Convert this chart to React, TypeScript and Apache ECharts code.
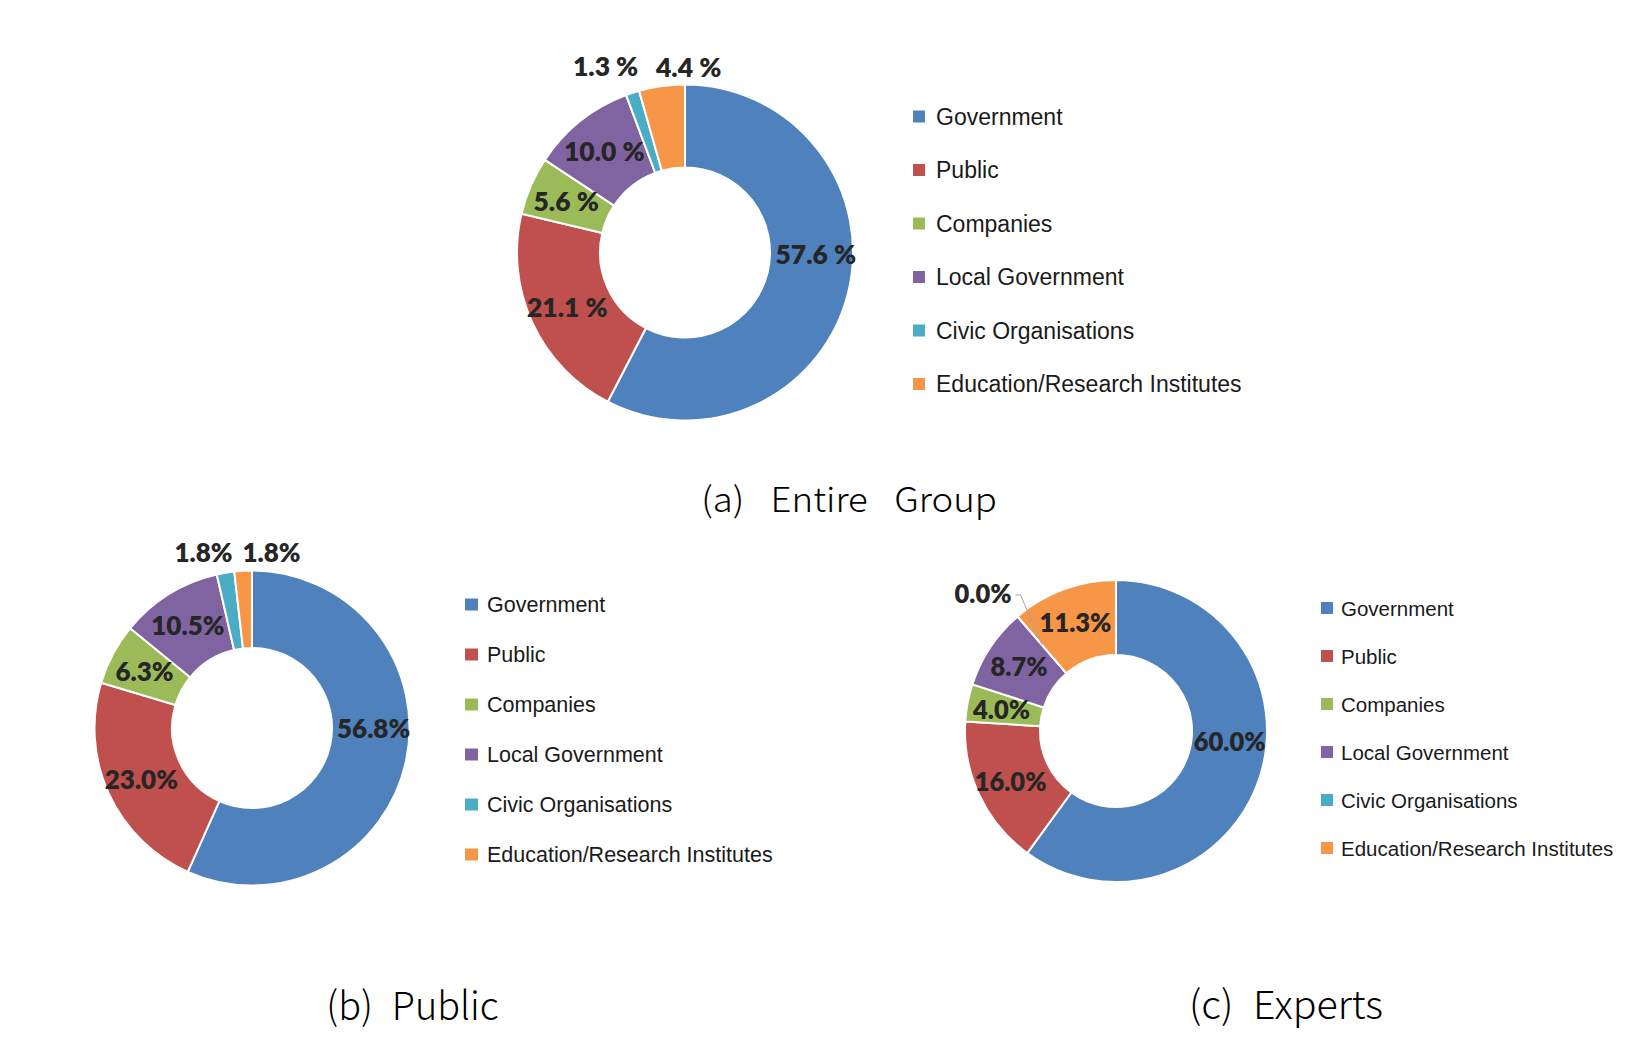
import React, { useEffect, useRef } from 'react';
import * as echarts from 'echarts';

// ---------- data ----------
const categories = [
  'Government',
  'Public',
  'Companies',
  'Local Government',
  'Civic Organisations',
  'Education/Research Institutes',
];
const entireGroupValues = [57.6, 21.1, 5.6, 10.0, 1.3, 4.4];
const publicValues = [56.8, 23.0, 6.3, 10.5, 1.8, 1.8];
const expertsValues = [60.0, 16.0, 4.0, 8.7, 0.0, 11.3];
const panelTitles = ['(a)\u2002 Entire\u2002 Group', '(b)\u2002Public', '(c)\u2002Experts'];

// ---------- styles / layout ----------
const colors = ['#4F81BD', '#C0504D', '#9BBB59', '#8064A2', '#4BACC6', '#F79646'];
const LABEL_FONT = 'Lato';
const LABEL_WEIGHT = 800;

type Panel = {
  values: number[];
  suffix: string;
  center: [number, number];
  radius: [number, number];
  labelSize: number;
  shifts: Record<number, [number, number]>;
  leaderIndex?: number;
  legend: { left: number; top: number; gap: number; size: number; lh: number; pad: number[]; iw: number };
  title: { x: number; y: number; size: number; sx: number };
};

const panels: Panel[] = [
  {
    values: entireGroupValues,
    suffix: ' %',
    center: [685, 252.5],
    radius: [85, 168],
    labelSize: 26.5,
    shifts: { 0: [5, -29.5], 4: [-39, -63], 5: [21.5, -57.7] },
    legend: { left: 913, top: 101, gap: 22.5, size: 23, lh: 24, pad: [0, 0, 7, 6], iw: 12 },
    title: { x: 849, y: 497, size: 34.5, sx: 1.06 },
  },
  {
    values: publicValues,
    suffix: '%',
    center: [252, 728],
    radius: [80, 157.5],
    labelSize: 26,
    shifts: { 0: [2.5, -25], 4: [-28, -56], 5: [26.4, -54.4] },
    legend: { left: 465, top: 590.5, gap: 22, size: 21.5, lh: 22, pad: [0, 0, 6, 4], iw: 13 },
    title: { x: 412.5, y: 1002.5, size: 39, sx: 0.97 },
  },
  {
    values: expertsValues,
    suffix: '%',
    center: [1116, 731],
    radius: [76, 151],
    labelSize: 25.5,
    shifts: { 0: [2.8, -26], 4: [-57, -50] },
    leaderIndex: 4,
    legend: { left: 1321, top: 594, gap: 20, size: 20.5, lh: 21, pad: [0, 0, 7, 3], iw: 12 },
    title: { x: 1286, y: 1002.5, size: 39, sx: 1.01 },
  },
];

const fmt = (v: number, suffix: string) => Number(v).toFixed(1) + suffix;

function measureText(text: string, font: string): number {
  const c = document.createElement('canvas').getContext('2d');
  if (!c) return text.length * 12;
  c.font = font;
  return c.measureText(text).width;
}

// leader line for a label moved away from its slice (computed from the data and the ring geometry)
function leaderLine(p: Panel) {
  if (p.leaderIndex == null) return null;
  const i = p.leaderIndex;
  const total = p.values.reduce((a, b) => a + b, 0);
  let cum = 0;
  for (let k = 0; k < i; k++) cum += p.values[k];
  cum += p.values[i] / 2;
  const theta = ((90 - (360 * cum) / total) * Math.PI) / 180;
  const rm = (p.radius[0] + p.radius[1]) / 2;
  const ax = p.center[0] + rm * Math.cos(theta);
  const ay = p.center[1] - rm * Math.sin(theta);
  const s = p.shifts[i] || [0, 0];
  const lx = ax + s[0];
  const ly = ay + s[1];
  const w = measureText(fmt(p.values[i], p.suffix), `${LABEL_WEIGHT} ${p.labelSize}px ${LABEL_FONT}`);
  const tx = lx + w / 2 + 2;
  return {
    type: 'polyline',
    z: 100,
    z2: 100,
    silent: true,
    shape: { points: [[ax, ay], [tx + 5, ly], [tx, ly]] },
    style: { stroke: '#A6A6A6', lineWidth: 1, fill: null },
  };
}

function buildOption() {
  const series = panels.map((p, si) => ({
    type: 'pie',
    name: panelTitles[si],
    center: p.center,
    radius: p.radius,
    startAngle: 90,
    clockwise: true,
    avoidLabelOverlap: false,
    color: colors,
    itemStyle: { borderColor: '#ffffff', borderWidth: 2 },
    label: {
      show: true,
      position: 'inside',
      formatter: (q: any) => fmt(q.value, p.suffix),
      color: '#262626',
      fontFamily: LABEL_FONT,
      fontWeight: LABEL_WEIGHT,
      fontSize: p.labelSize,
      textBorderWidth: 0,
    },
    labelLine: { show: false },
    labelLayout: (q: any) => {
      const s = p.shifts[q.dataIndex];
      if (!s) return {};
      const r = q.labelRect;
      return { x: r.x + r.width / 2 + s[0], y: r.y + r.height / 2 + s[1] };
    },
    emphasis: { disabled: true },
    z: 2,
    data: categories.map((name, i) => ({ name, value: p.values[i] })),
  }));

  const legend = panels.map((p) => ({
    orient: 'vertical',
    left: p.legend.left,
    top: p.legend.top,
    padding: 0,
    itemGap: p.legend.gap,
    itemWidth: p.legend.iw,
    itemHeight: 12,
    icon: 'rect',
    selectedMode: false,
    itemStyle: { borderWidth: 0 },
    data: categories,
    textStyle: {
      fontFamily: 'Liberation Sans',
      fontSize: p.legend.size,
      lineHeight: p.legend.lh,
      color: '#1a1a1a',
      padding: p.legend.pad,
    },
  }));

  const elements: any[] = panels.map((p, i) => ({
    type: 'text',
    x: p.title.x,
    y: p.title.y,
    scaleX: p.title.sx,
    style: {
      text: panelTitles[i],
      fontFamily: '"Noto Sans CJK JP", "Noto Sans", sans-serif',
      fontSize: p.title.size,
      fontWeight: 300,
      fill: '#000000',
      align: 'center',
      verticalAlign: 'middle',
      textAlign: 'center',
      textVerticalAlign: 'middle',
    },
  }));
  panels.forEach((p) => {
    const l = leaderLine(p);
    if (l) elements.push(l);
  });

  return {
    animation: false,
    backgroundColor: '#ffffff',
    color: colors,
    legend,
    graphic: { z: 100, elements },
    series,
  };
}

export default function App() {
  const ref = useRef<HTMLDivElement>(null);
  useEffect(() => {
    if (!ref.current) return;
    const chart = echarts.init(ref.current, undefined, { renderer: 'svg' });
    chart.setOption(buildOption() as any);
    return () => chart.dispose();
  }, []);
  return (
    <div
      ref={ref}
      style={{ position: 'fixed', left: 0, top: 0, width: 1652, height: 1048, background: '#fff' }}
    />
  );
}
